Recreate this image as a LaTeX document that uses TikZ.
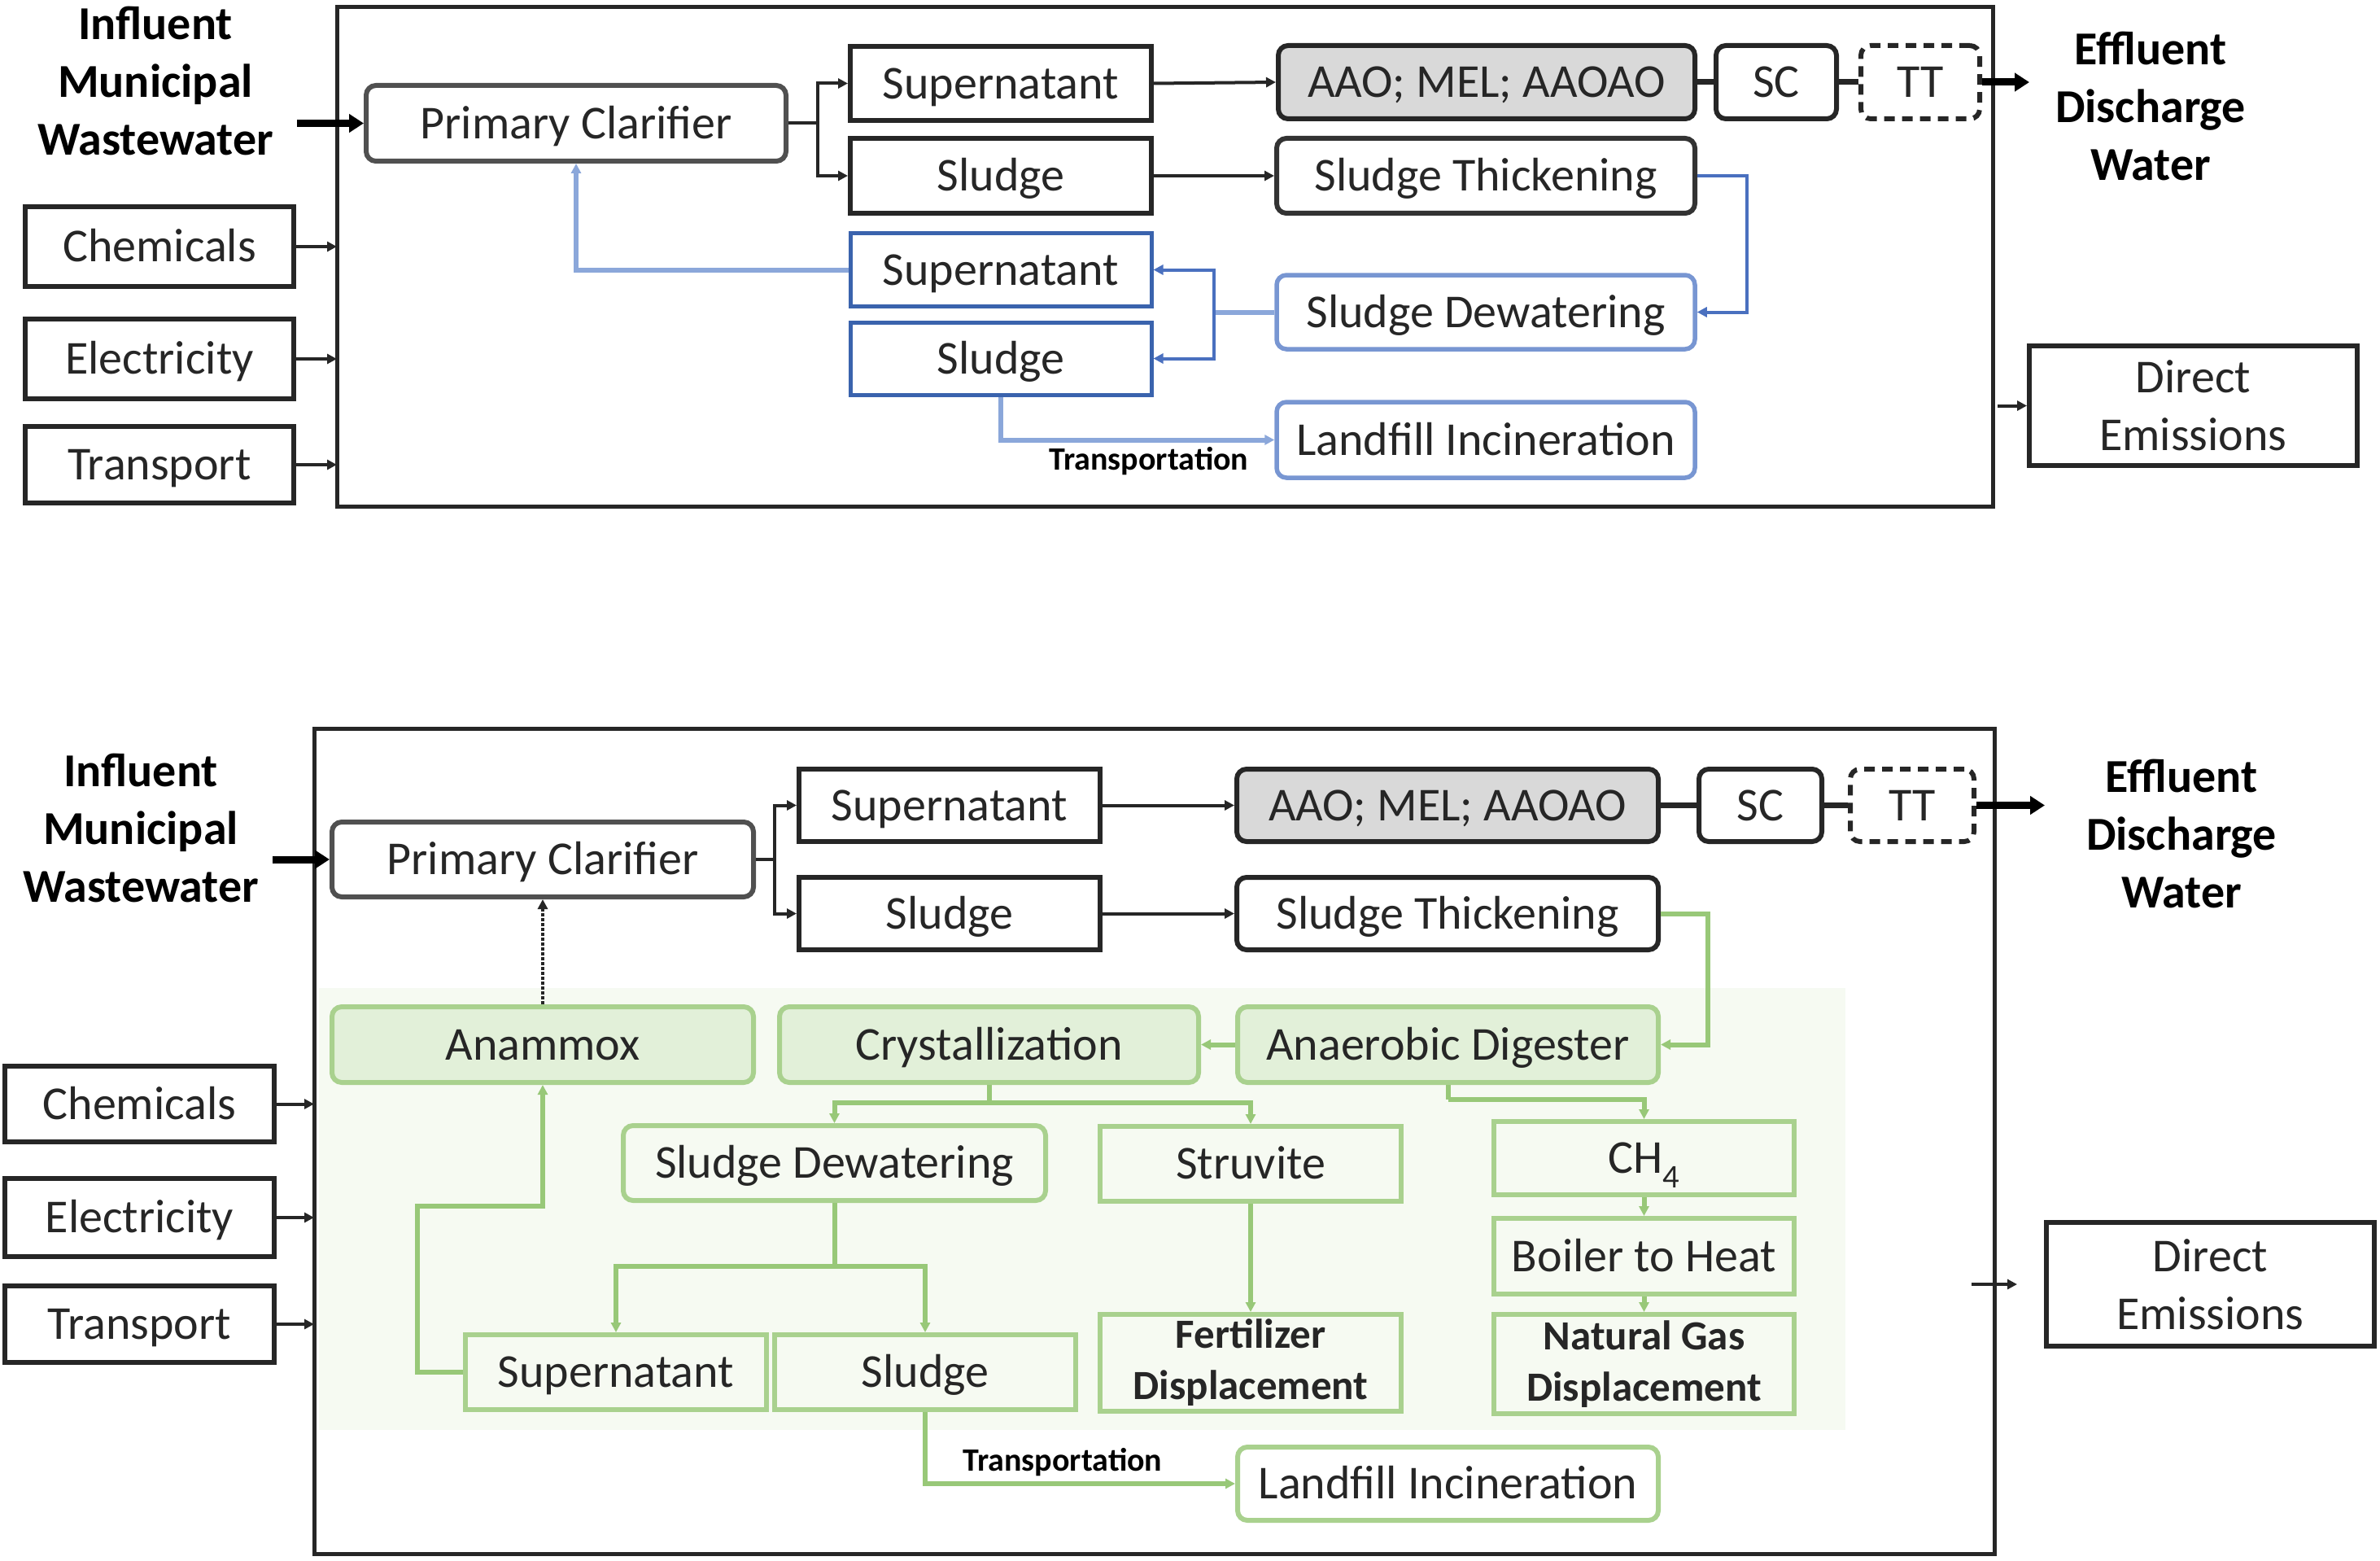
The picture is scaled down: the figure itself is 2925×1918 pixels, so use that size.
\documentclass[tikz,border=0pt]{standalone}
\usepackage{fontspec}
\setmainfont{Carlito}
\usetikzlibrary{arrows.meta}
\definecolor{txt}{HTML}{262626}
\definecolor{grayB}{HTML}{505050}
\definecolor{aaofill}{HTML}{D9D9D9}
\definecolor{blueD}{HTML}{3A63AD}
\definecolor{blueL}{HTML}{7896D2}
\definecolor{blueLine}{HTML}{4A70BF}
\definecolor{blueLine2}{HTML}{8BA7DA}
\definecolor{greenB}{HTML}{A9D18E}
\definecolor{greenF}{HTML}{E2F0D9}
\definecolor{greenLine}{HTML}{98C878}
\definecolor{greenBg}{HTML}{F6FAF2}
\newcommand\labfont{\fontsize{58}{71}\selectfont}
\newcommand\smallbold{\fontsize{51}{63}\selectfont\bfseries}
\newcommand\trfont{\fontsize{40}{46}\selectfont\bfseries}
\tikzset{
  base/.style={draw, line width=6pt, inner sep=0pt, align=center, font=\labfont, text=txt},
  one/.style={text height=37.5pt, text depth=0pt},
  sq/.style={base, draw=black!85},
  rnd/.style={base, draw=grayB, rounded corners=12pt},
  aao/.style={rnd, draw=black!85, fill=aaofill},
  ttbox/.style={rnd, draw=black!85, dash pattern=on 13pt off 9pt},
  bsq/.style={base, draw=blueD, line width=5pt},
  brnd/.style={base, draw=blueL, line width=5.5pt, rounded corners=12pt},
  gsq/.style={base, draw=greenB},
  grnd/.style={base, draw=greenB, rounded corners=12pt},
  gfill/.style={grnd, fill=greenF},
  ttl/.style={inner sep=0pt, align=center, font=\fontsize{58}{71}\selectfont\bfseries, text=black},
  trl/.style={inner sep=0pt, font=\trfont, text=black},
  arr/.style={-{Triangle[length=12pt,width=12pt]}},
  conn/.style={draw=black!85, line width=4pt},
  link/.style={draw=black!85, line width=7pt},
  big/.style={draw=black, line width=9pt, -{Triangle[length=18pt,width=22pt]}},
  bline/.style={draw=blueLine, line width=4pt},
  bline2/.style={draw=blueLine2, line width=6pt},
  gline/.style={draw=greenLine, line width=6pt},
}
\begin{document}
\begin{tikzpicture}[x=1pt,y=-1pt]
\useasboundingbox[fill=white] (0,0) rectangle (2925,1918);

%================ TOP PANEL ================
\draw[line width=5pt, draw=black!85] (414,9) rectangle (2449,622);

\node[ttl] (inflT) at (191,99) {Influent\\Municipal\\Wastewater};
\node[ttl] (effT) at (2643,130) {Effluent\\Discharge\\Water};

\node[rnd, one, minimum width=516pt, minimum height=93pt] (pcT) at (708,151.5) {Primary Clarifier};
\node[sq, one, minimum width=370pt, minimum height=91pt] (supT) at (1230,102.5) {Supernatant};
\node[sq, one, minimum width=370pt, minimum height=92pt] (sluT) at (1230,216) {Sludge};
\node[bsq, one, minimum width=370pt, minimum height=89pt] (supBT) at (1230,331.5) {Supernatant};
\node[bsq, one, minimum width=370pt, minimum height=89pt] (sluBT) at (1230,440.5) {Sludge};
\node[aao, one, minimum width=512pt, minimum height=90pt] (aaoT) at (1827,101) {AAO; MEL; AAOAO};
\node[rnd, one, draw=black!85, minimum width=148pt, minimum height=90pt] (scT) at (2183,101) {SC};
\node[ttbox, one, minimum width=146pt, minimum height=90pt] (ttT) at (2360,101) {TT};
\node[rnd, one, draw=black!80, minimum width=514pt, minimum height=92pt] (thkT) at (1826,216) {Sludge Thickening};
\node[brnd, one, minimum width=514pt, minimum height=91pt] (dewT) at (1826,383.5) {Sludge Dewatering};
\node[brnd, one, minimum width=514pt, minimum height=93pt] (lanT) at (1826,540.5) {Landfill Incineration};

\node[sq, one, minimum width=330pt, minimum height=98pt] (chemT) at (196,303) {Chemicals};
\node[sq, one, minimum width=330pt, minimum height=98pt] (eleT) at (196,441) {Electricity};
\node[sq, one, minimum width=330pt, minimum height=94pt] (traT) at (196,571) {Transport};
\node[sq, minimum width=403pt, minimum height=147pt] (demT) at (2695.5,498.5) {Direct\\Emissions};

\coordinate (inT) at (365,151.5);
\coordinate (jT) at (1005,151.5);
\coordinate (outT) at (2494,101);
\coordinate (jdT) at (1492,383.5);
\coordinate (cT) at (414,303);
\coordinate (eT) at (414,441);
\coordinate (tT) at (414,571);
\coordinate (deT) at (2455,498.5);

\draw[big] (inT) -- (pcT.west);
\draw[conn] (pcT.east) -- (jT);
\draw[conn,arr] (jT) |- (supT.west);
\draw[conn,arr] (jT) |- (sluT.west);
\draw[conn,arr] (supT.east) -- (aaoT.west);
\draw[link] (aaoT.east) -- (scT.west);
\draw[link] (scT.east) -- (ttT.west);
\draw[big] (ttT.east) -- (outT);
\draw[conn,arr] (sluT.east) -- (thkT.west);
\draw[bline,arr] (thkT.east) -- ++(61,0) |- (dewT.east);
\draw[bline2] (dewT.west) -- (jdT);
\draw[bline,arr] (jdT) |- (supBT.east);
\draw[bline,arr] (jdT) |- (sluBT.east);
\draw[bline2,arr] (supBT.west) -| (pcT.south);
\draw[bline2,arr] (sluBT.south) |- (lanT.west);
\node[trl] (trT) at (1412,567) {Transportation};
\draw[conn,arr] (chemT.east) -- (cT);
\draw[conn,arr] (eleT.east) -- (eT);
\draw[conn,arr] (traT.east) -- (tT);
\draw[conn,arr] (deT) -- (demT.west);

%================ BOTTOM PANEL ================
\fill[greenBg] (392,1214) rectangle (2268,1757);
\draw[line width=5pt, draw=black!85] (386,895) rectangle (2451,1909);

\node[ttl] (inflB) at (173,1017) {Influent\\Municipal\\Wastewater};
\node[ttl] (effB) at (2681,1024) {Effluent\\Discharge\\Water};

\node[rnd, one, minimum width=518pt, minimum height=92pt] (pcB) at (667,1056) {Primary Clarifier};
\node[sq, one, minimum width=370pt, minimum height=89pt] (supB) at (1167,989.5) {Supernatant};
\node[sq, one, minimum width=370pt, minimum height=89pt] (sluB) at (1167,1122.5) {Sludge};
\node[aao, one, minimum width=518pt, minimum height=89pt] (aaoB) at (1779,989.5) {AAO; MEL; AAOAO};
\node[rnd, one, draw=black!85, minimum width=151pt, minimum height=89pt] (scB) at (2163.5,989.5) {SC};
\node[ttbox, one, minimum width=152pt, minimum height=89pt] (ttB) at (2350,989.5) {TT};
\node[rnd, one, draw=black!85, minimum width=518pt, minimum height=89pt] (thkB) at (1779,1122.5) {Sludge Thickening};

\node[gfill, one, minimum width=518pt, minimum height=93pt] (anam) at (667,1283.5) {Anammox};
\node[gfill, one, minimum width=515pt, minimum height=93pt] (crys) at (1215.5,1283.5) {Crystallization};
\node[gfill, one, minimum width=517pt, minimum height=93pt] (adB) at (1779.5,1283.5) {Anaerobic Digester};
\node[grnd, one, minimum width=519pt, minimum height=92pt] (dewB) at (1025.5,1429) {Sludge Dewatering};
\node[gsq, one, minimum width=370pt, minimum height=92pt] (struv) at (1537,1430) {Struvite};
\node[gsq, minimum width=370pt, minimum height=119pt, font=\smallbold] (fert) at (1537,1674.5) {Fertilizer\\Displacement};
\node[gsq, one, minimum width=370pt, minimum height=92pt] (supG) at (757,1686) {Supernatant};
\node[gsq, one, minimum width=370pt, minimum height=92pt] (sluG) at (1137,1686) {Sludge};
\node[grnd, one, minimum width=517pt, minimum height=90pt] (lanB) at (1779.5,1823) {Landfill Incineration};
\node[gsq, one, minimum width=369pt, minimum height=90pt] (ch4) at (2020.5,1423) {CH\textsubscript{4}};
\node[gsq, one, minimum width=369pt, minimum height=93pt] (boil) at (2020.5,1543.5) {Boiler to Heat};
\node[gsq, minimum width=369pt, minimum height=122pt, font=\smallbold] (ngas) at (2020.5,1676) {Natural Gas\\Displacement};

\node[sq, one, minimum width=331pt, minimum height=93pt] (chemB) at (171.5,1356.5) {Chemicals};
\node[sq, one, minimum width=331pt, minimum height=96pt] (eleB) at (171.5,1496) {Electricity};
\node[sq, one, minimum width=331pt, minimum height=94pt] (traB) at (171.5,1627) {Transport};
\node[sq, minimum width=403pt, minimum height=152pt] (demB) at (2716.5,1578) {Direct\\Emissions};

\coordinate (inB) at (335,1056);
\coordinate (jB) at (952,1056);
\coordinate (outB) at (2513,989.5);
\coordinate (jc) at (1215.5,1355);
\coordinate (jd) at (1025.5,1556);
\coordinate (ka) at (513,1482);
\coordinate (ja) at (1779.5,1351);
\coordinate (cB) at (386,1356.5);
\coordinate (eB) at (386,1496);
\coordinate (tB) at (386,1627);
\coordinate (deB) at (2423,1578);

\draw[big] (inB) -- (pcB.west);
\draw[conn] (pcB.east) -- (jB);
\draw[conn,arr] (jB) |- (supB.west);
\draw[conn,arr] (jB) |- (sluB.west);
\draw[conn,arr] (supB.east) -- (aaoB.west);
\draw[link] (aaoB.east) -- (scB.west);
\draw[link] (scB.east) -- (ttB.west);
\draw[big] (ttB.east) -- (outB);
\draw[conn,arr] (sluB.east) -- (thkB.west);
\draw[gline,arr] (thkB.east) -- ++(58,0) |- (adB.east);
\draw[conn,arr,dotted,line width=4pt] (anam.north) -- (pcB.south);
\draw[gline,arr] (adB.west) -- (crys.east);
\draw[gline] (crys.south) -- (jc);
\draw[gline,arr] (jc) -| (dewB.north);
\draw[gline,arr] (jc) -| (struv.north);
\draw[gline,arr] (struv.south) -- (fert.north);
\draw[gline] (dewB.south) -- (jd);
\draw[gline,arr] (jd) -| (supG.north);
\draw[gline,arr] (jd) -| (sluG.north);
\draw[gline,arr] (supG.west) -| (ka) -| (anam.south);
\draw[gline,arr] (sluG.south) |- (lanB.west);
\node[trl] (trB) at (1306,1797) {Transportation};
\draw[gline] (adB.south) -- (ja);
\draw[gline,arr] (ja) -| (ch4.north);
\draw[gline,arr] (ch4.south) -- (boil.north);
\draw[gline,arr] (boil.south) -- (ngas.north);
\draw[conn,arr] (chemB.east) -- (cB);
\draw[conn,arr] (eleB.east) -- (eB);
\draw[conn,arr] (traB.east) -- (tB);
\draw[conn,arr,shorten >=33pt] (deB) -- (demB.west);
\end{tikzpicture}
\end{document}
